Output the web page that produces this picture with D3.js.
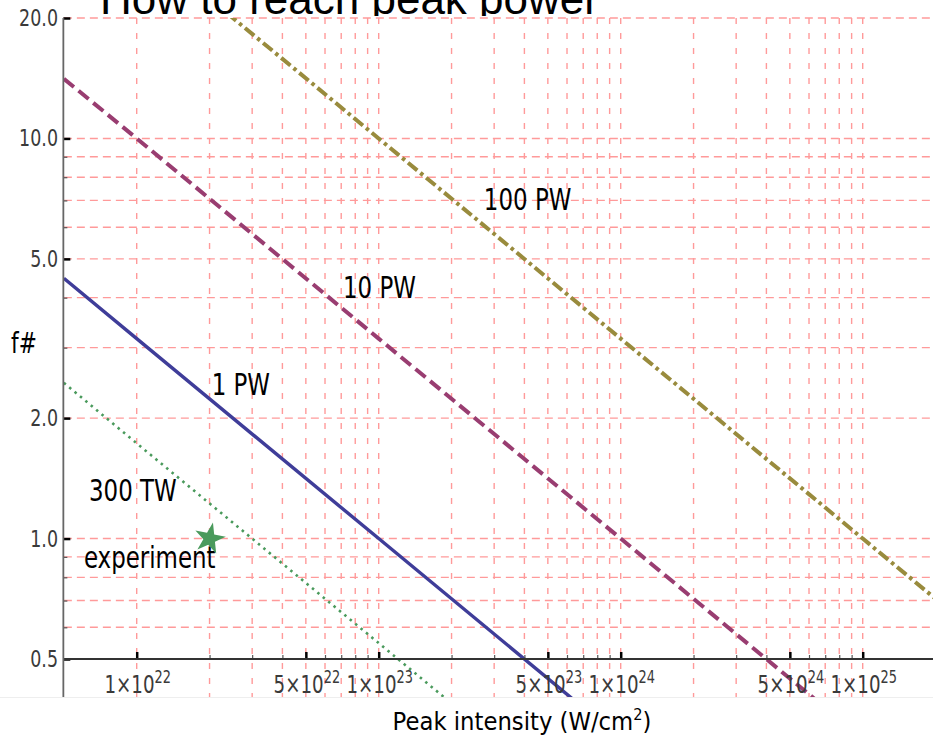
<!DOCTYPE html>
<html>
<head>
<meta charset="utf-8">
<script src="https://cdn.jsdelivr.net/npm/d3@7"></script>
<style>
  body { margin: 0; background: #fff; }
  text { font-family: "DejaVu Sans", sans-serif; }
</style>
</head>
<body>
<div id="chart"></div>
<script>
// peak intensity samples (W/cm^2) shared by every power line
const intensities = [5e21, 1e22, 1e23, 1e24, 1e25, 2e25]
// f# at those intensities
const tw300 = [2.45, 1.73, 0.548, 0.173, 0.055, 0.039]
const pw1 = [4.47, 3.16, 1.0, 0.316, 0.1, 0.071]
const pw10 = [14.1, 10.0, 3.16, 1.0, 0.316, 0.224]
const pw100 = [44.7, 31.6, 10.0, 3.16, 1.0, 0.707]

const seriesNames = ['300 TW', '1 PW', '10 PW', '100 PW']
// label anchors [intensity, f#]
const labelAt = [[6.35e21, 1.24], [2.04e22, 2.29], [7.12e22, 4.0], [2.72e23, 6.63]]

const experiment = [[2e22, 1.0]]
const experimentLabelAt = [6.05e21, 0.844]

const xMajor = [1e22, 5e22, 1e23, 5e23, 1e24, 5e24, 1e25]
const xMajorMant = ['1', '5', '1', '5', '1', '5', '1']
const xMajorExp = ['22', '22', '23', '23', '24', '24', '25']
const xGrid = [1e22, 2e22, 3e22, 4e22, 5e22, 6e22, 7e22, 8e22, 9e22,
    1e23, 2e23, 3e23, 4e23, 5e23, 6e23, 7e23, 8e23, 9e23,
    1e24, 2e24, 3e24, 4e24, 5e24, 6e24, 7e24, 8e24, 9e24, 1e25]
const yMajor = [0.5, 1, 2, 5, 10, 20]
const yMajorLabels = ['0.5', '1.0', '2.0', '5.0', '10.0', '20.0']
const yGrid = [0.5, 0.6, 0.7, 0.8, 0.9, 1, 2, 3, 4, 5, 6, 7, 8, 9, 10, 20]

const W = 933, H = 741
const svg = d3.select('#chart').append('svg')
    .attr('width', W)
    .attr('height', H)

const x = d3.scaleLog().domain([5e21, 2e25]).range([63.85, 935.55])
const y = d3.scaleLog().domain([0.5, 20]).range([659, 18])
const plotBottom = 697

// title, partly hidden under the plot top
svg.append('clipPath').attr('id', 'titleClip')
    .append('rect').attr('x', 0).attr('y', 0).attr('width', W).attr('height', 16)
svg.append('text')
    .attr('clip-path', 'url(#titleClip)')
    .attr('x', 100).attr('y', 14)
    .style('font-family', '"Liberation Sans", Arial, sans-serif')
    .style('font-size', '44px')
    .attr('fill', '#000')
    .text('How to reach peak power')

svg.append('clipPath').attr('id', 'plotClip')
    .append('rect')
    .attr('x', x.range()[0]).attr('y', y(20))
    .attr('width', W - x.range()[0]).attr('height', plotBottom - y(20))

// grid
const grid = svg.append('g').attr('class', 'grid')
    .attr('stroke', '#ff9a9a').attr('stroke-width', 1.4).attr('fill', 'none')
grid.selectAll('line.h').data(yGrid).join('line')
    .attr('class', 'h')
    .attr('x1', x.range()[0]).attr('x2', W)
    .attr('y1', d => y(d)).attr('y2', d => y(d))
    .attr('stroke-dasharray', '8,5')
grid.selectAll('line.v').data(xGrid).join('line')
    .attr('class', 'v')
    .attr('x1', d => x(d)).attr('x2', d => x(d))
    .attr('y1', y(20)).attr('y2', plotBottom)
    .attr('stroke-dasharray', '6,9')

// power lines
const styles = [
    { color: '#4a9a5c', width: 2.6, dash: '2.5,4.5' },
    { color: '#3f3d99', width: 3.4, dash: null },
    { color: '#993d71', width: 4, dash: '13,6' },
    { color: '#998b3d', width: 4, dash: '12,4,3.5,4' }
]
const series = [tw300, pw1, pw10, pw100]
const line = d3.line()
    .x((d, i) => x(intensities[i]))
    .y(d => y(d))

const lines = svg.append('g').attr('clip-path', 'url(#plotClip)')
lines.selectAll('path').data(series).join('path')
    .attr('d', line)
    .attr('fill', 'none')
    .attr('stroke', (d, i) => styles[i].color)
    .attr('stroke-width', (d, i) => styles[i].width)
    .attr('stroke-dasharray', (d, i) => styles[i].dash)

// axes
const xAxisMinor = d3.axisBottom(x).tickValues(xGrid.filter(v => !xMajor.includes(v)))
    .tickSize(-4).tickSizeOuter(0).tickFormat('')
const xAxisMajor = d3.axisBottom(x).tickValues(xMajor)
    .tickSize(-7).tickSizeOuter(0).tickFormat('')
const yAxisMinor = d3.axisLeft(y).tickValues(yGrid.filter(v => !yMajor.includes(v)))
    .tickSize(-4).tickSizeOuter(0).tickFormat('')
const yAxisMajor = d3.axisLeft(y).tickValues(yMajor)
    .tickSize(-7).tickSizeOuter(0).tickFormat('')

const axisX = x.range()[0] - 0.5
const gx1 = svg.append('g').attr('transform', 'translate(0,' + y(0.5) + ')').call(xAxisMinor)
const gx2 = svg.append('g').attr('transform', 'translate(0,' + y(0.5) + ')').call(xAxisMajor)
const gy1 = svg.append('g').attr('transform', 'translate(' + axisX + ',0)').call(yAxisMinor)
const gy2 = svg.append('g').attr('transform', 'translate(' + axisX + ',0)').call(yAxisMajor)
;[gx1, gx2, gy1, gy2].forEach(g => g.select('.domain').remove())
;[gx1, gy1].forEach(g => g.selectAll('.tick line').attr('stroke', '#555').attr('stroke-width', 1.2))
;[gx2, gy2].forEach(g => g.selectAll('.tick line').attr('stroke', '#000').attr('stroke-width', 2.5))

svg.append('line')
    .attr('x1', axisX).attr('x2', W)
    .attr('y1', y(0.5)).attr('y2', y(0.5))
    .attr('stroke', '#333').attr('stroke-width', 1.8)
svg.append('line')
    .attr('x1', axisX).attr('x2', axisX)
    .attr('y1', y(20)).attr('y2', plotBottom)
    .attr('stroke', '#666').attr('stroke-width', 1.8)
svg.append('line')
    .attr('x1', 0).attr('x2', W)
    .attr('y1', plotBottom + 0.5).attr('y2', plotBottom + 0.5)
    .attr('stroke', '#eee').attr('stroke-width', 1)

// tick labels, narrow like the reference
svg.selectAll('text.ylab').data(yMajor).join('text')
    .attr('class', 'ylab')
    .attr('transform', d => 'translate(58,' + (y(d) + 8) + ') scale(0.76,1)')
    .attr('text-anchor', 'end')
    .attr('fill', '#3a3a3a')
    .style('font-size', '23px')
    .text((d, i) => yMajorLabels[i])

const xl = svg.selectAll('text.xlab').data(xMajor).join('text')
    .attr('class', 'xlab')
    .attr('transform', d => 'translate(' + (x(d) + 1) + ',693) scale(0.76,1)')
    .attr('text-anchor', 'middle')
    .attr('fill', '#3a3a3a')
    .style('font-size', '24px')
xl.append('tspan').text((d, i) => xMajorMant[i] + '\u00d710')
xl.append('tspan').attr('dy', -10).style('font-size', '17px').text((d, i) => xMajorExp[i])

// curve labels
const ls = 0.74
svg.selectAll('text.curve').data(labelAt).join('text')
    .attr('class', 'curve')
    .attr('transform', d => 'translate(' + x(d[0]) + ',' + y(d[1]) + ') scale(' + ls + ',1)')
    .style('font-size', '31px')
    .attr('fill', '#000')
    .text((d, i) => seriesNames[i])

svg.append('text')
    .attr('transform', 'translate(' + x(experimentLabelAt[0]) + ',' + y(experimentLabelAt[1]) + ') scale(' + ls + ',1)')
    .style('font-size', '31px')
    .attr('fill', '#000')
    .text('experiment')

svg.selectAll('path.star').data(experiment).join('path')
    .attr('class', 'star')
    .attr('d', d3.symbol().type(d3.symbolStar).size(300))
    .attr('transform', d => 'translate(' + x(d[0]) + ',' + y(d[1]) + ') rotate(12)')
    .attr('fill', '#4a9a5c')

// axis titles
svg.append('text')
    .attr('transform', 'translate(11,353) scale(0.75,1)')
    .style('font-size', '29px')
    .text('f#')

const xt = svg.append('text')
    .attr('transform', 'translate(522,730) scale(0.91,1)')
    .attr('text-anchor', 'middle')
    .style('font-size', '25px')
xt.append('tspan').text('Peak intensity (W/cm')
xt.append('tspan').attr('dy', -10).style('font-size', '16px').text('2')
xt.append('tspan').attr('dy', 10).text(')')
</script>
</body>
</html>
